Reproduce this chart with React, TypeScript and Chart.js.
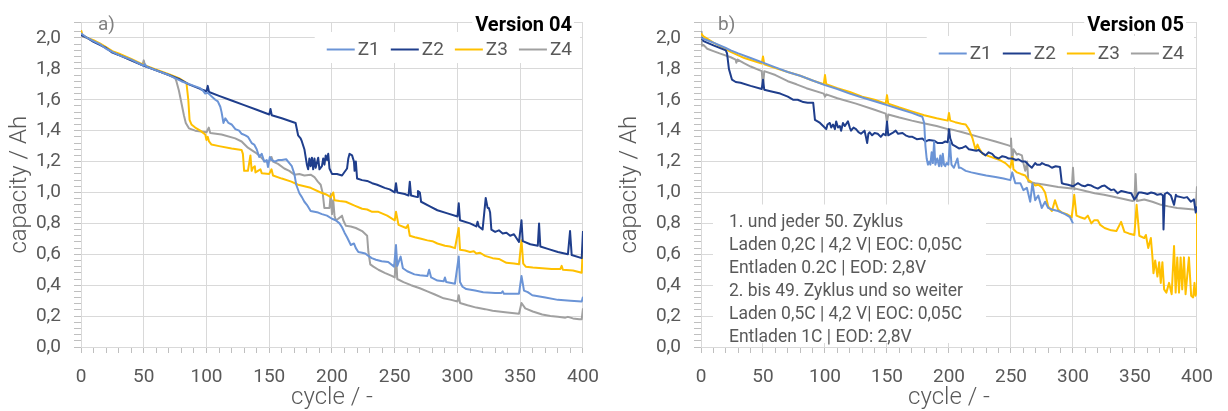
import React, { useEffect, useRef } from 'react';
import { Chart, registerables } from 'chart.js';

Chart.register(...registerables);

type P = [number, number];

// ---------- Version 04 (panel a) ----------
const V04_Z1: P[] = [
  [0, 2.03], [5, 2.0], [10, 1.98], [15, 1.96], [20, 1.93], [25, 1.91], [30, 1.89], [40, 1.86], [50, 1.82], [51, 1.83], [52, 1.815],
  [60, 1.79], [70, 1.76], [80, 1.72], [90, 1.69], [95, 1.675], [97, 1.66], [99, 1.64], [101, 1.645], [103, 1.63], [107, 1.6],
  [109, 1.59], [111, 1.555], [112, 1.52], [113.5, 1.45], [115, 1.48], [117.5, 1.45], [120, 1.44], [123, 1.41], [126, 1.4],
  [128, 1.38], [131, 1.37], [133, 1.36], [136, 1.32], [138, 1.31], [140, 1.28], [142, 1.23], [144, 1.25], [146, 1.2],
  [148, 1.21], [149, 1.165], [150.5, 1.23], [152, 1.21], [154.5, 1.2], [157, 1.21], [160, 1.21], [163.5, 1.215], [166, 1.19],
  [168, 1.17], [170, 1.12], [171.5, 1.05], [174, 0.995], [176, 0.97], [178, 0.94], [180, 0.92], [183, 0.88], [186, 0.875],
  [189, 0.87], [192, 0.86], [196, 0.85], [200, 0.83], [203, 0.82], [206, 0.8], [208, 0.775], [210, 0.74], [212, 0.71],
  [215, 0.66], [217.5, 0.67], [219, 0.64], [221, 0.615], [224, 0.61], [226.5, 0.605], [229, 0.59], [231.7, 0.575],
  [235, 0.565], [239.6, 0.555], [244.8, 0.55], [249.5, 0.52], [251, 0.66], [252, 0.525], [254.7, 0.585], [256.5, 0.51],
  [260, 0.49], [265.7, 0.47], [270, 0.465], [276, 0.46], [277.4, 0.5], [279, 0.45], [284, 0.43], [289, 0.425], [290, 0.45],
  [291, 0.42], [298, 0.41], [301, 0.585], [302, 0.42], [304, 0.39], [307, 0.375], [314, 0.365], [320.5, 0.355], [330, 0.35],
  [335, 0.35], [336, 0.36], [337, 0.345], [349, 0.345], [351, 0.46], [353, 0.365], [356, 0.355], [359.6, 0.335], [370, 0.32],
  [380, 0.305], [390, 0.3], [399, 0.295], [400, 0.325],
];
const V04_Z2: P[] = [
  [0, 2.02], [5, 2.0], [10, 1.975], [15, 1.955], [20, 1.935], [25, 1.905], [30, 1.89], [40, 1.855], [50, 1.82], [60, 1.79],
  [70, 1.76], [78, 1.735], [86, 1.7], [95, 1.67], [100, 1.655], [101, 1.69], [102, 1.65], [110, 1.625], [120, 1.595],
  [130, 1.565], [140, 1.535], [150, 1.505], [151, 1.54], [152, 1.5], [160, 1.48], [171, 1.45], [173, 1.37], [175, 1.35],
  [176, 1.33], [178, 1.28], [180, 1.18], [181, 1.15], [182, 1.22], [183, 1.17], [184, 1.225], [185, 1.15], [186, 1.22],
  [187, 1.16], [189, 1.225], [190, 1.15], [192, 1.17], [193, 1.22], [194, 1.18], [195, 1.24], [196, 1.21], [197, 1.25],
  [198, 1.155], [200, 1.12], [204, 1.12], [208, 1.11], [212, 1.155], [213, 1.22], [214, 1.25], [216, 1.24], [217.5, 1.2],
  [218, 1.14], [219, 1.2], [220, 1.09], [224, 1.08], [228, 1.075], [232, 1.06], [236, 1.05], [242, 1.03], [246, 1.02],
  [250, 1.0], [251, 1.06], [252, 1.0], [258, 0.99], [261, 0.98], [262, 1.07], [263, 0.98], [268, 0.97], [268.5, 1.01],
  [270, 1.0], [271, 0.94], [278, 0.91], [284, 0.885], [292, 0.865], [300, 0.845], [301, 0.93], [302, 0.82], [310, 0.8],
  [315, 0.78], [316, 0.81], [317, 0.78], [320, 0.76], [322.5, 0.965], [324, 0.9], [325, 0.9], [326, 0.87], [327, 0.76],
  [330, 0.745], [333, 0.755], [336, 0.735], [339, 0.74], [342, 0.72], [345, 0.73], [349, 0.68], [351, 0.82], [352, 0.685],
  [358, 0.665], [364, 0.655], [365, 0.8], [366, 0.65], [372, 0.635], [380, 0.615], [388, 0.6], [389.7, 0.75], [391, 0.595],
  [399, 0.575], [400, 0.75],
];
const V04_Z3: P[] = [
  [0, 2.05], [1, 2.02], [5, 2.0], [10, 1.985], [15, 1.965], [20, 1.94], [25, 1.915], [30, 1.9], [40, 1.865], [50, 1.825],
  [60, 1.795], [70, 1.765], [78, 1.74], [84, 1.71], [85.5, 1.6], [86.5, 1.47], [88, 1.44], [91, 1.42], [95, 1.4], [99, 1.375],
  [100, 1.34], [101, 1.36], [102, 1.33], [104, 1.31], [110, 1.3], [120, 1.285], [128, 1.275], [129, 1.25], [130, 1.14],
  [133, 1.14], [135, 1.24], [136, 1.14], [137, 1.16], [138.5, 1.17], [139, 1.13], [143, 1.15], [144, 1.125], [150, 1.12],
  [151.8, 1.15], [153, 1.11], [160, 1.09], [167.6, 1.07], [173, 1.05], [178, 1.04], [183, 1.03], [191, 1.0], [196, 0.985],
  [199, 0.97], [201, 1.0], [202, 0.95], [206, 0.945], [211, 0.94], [218, 0.915], [224, 0.895], [228, 0.89], [232, 0.875],
  [237, 0.875], [244, 0.85], [250, 0.82], [251, 0.875], [253, 0.79], [259, 0.77], [260.5, 0.79], [262, 0.72], [266, 0.71],
  [271, 0.7], [276, 0.69], [280, 0.685], [284, 0.67], [290, 0.655], [294, 0.65], [298, 0.64], [301, 0.77], [302, 0.63],
  [306, 0.625], [310, 0.615], [313, 0.62], [315, 0.605], [318, 0.61], [322, 0.59], [328, 0.575], [333, 0.57], [339, 0.545],
  [345, 0.54], [349, 0.535], [351, 0.69], [352.4, 0.54], [354.4, 0.52], [360, 0.515], [367.5, 0.51], [375, 0.505],
  [382, 0.505], [383, 0.525], [384, 0.5], [392, 0.495], [399, 0.48], [400, 0.67],
];
const V04_Z4: P[] = [
  [0, 2.05], [1, 2.01], [5, 2.0], [10, 1.98], [15, 1.96], [20, 1.935], [25, 1.91], [30, 1.89], [40, 1.855], [49, 1.825],
  [50, 1.855], [51, 1.82], [60, 1.79], [70, 1.76], [75, 1.74], [76, 1.72], [78, 1.66], [79.5, 1.6], [82, 1.5], [83.5, 1.45],
  [86, 1.415], [91, 1.4], [100, 1.39], [101.8, 1.42], [103, 1.385], [112, 1.375], [122.9, 1.35], [128, 1.33], [133, 1.29],
  [138.7, 1.26], [142, 1.24], [146.6, 1.2], [150, 1.2], [151.8, 1.23], [153, 1.2], [157, 1.185], [162, 1.155], [166, 1.14],
  [170, 1.115], [174, 1.12], [178, 1.11], [183, 1.115], [186, 1.1], [188.7, 1.07], [191, 1.05], [192.6, 0.995], [193.9, 0.9],
  [196, 0.9], [198, 0.9], [199, 0.99], [200, 0.86], [201, 0.95], [202, 0.85], [203, 0.82], [205, 0.83], [208, 0.85],
  [209, 0.82], [211, 0.785], [215, 0.78], [219, 0.77], [224, 0.75], [228, 0.72], [229, 0.615], [230.5, 0.535], [233, 0.52],
  [237, 0.5], [242, 0.48], [247.6, 0.46], [250, 0.45], [251, 0.615], [252, 0.44], [257, 0.42], [263, 0.4], [270, 0.38],
  [276, 0.36], [282, 0.34], [289, 0.315], [295, 0.305], [300, 0.295], [301, 0.335], [302, 0.285], [308, 0.27], [315, 0.255],
  [322, 0.245], [328, 0.235], [338, 0.225], [349, 0.215], [351, 0.285], [354, 0.25], [360, 0.23], [367.5, 0.21], [374, 0.2],
  [380, 0.195], [386, 0.19], [388, 0.195], [392, 0.185], [397, 0.18], [399, 0.18], [400, 0.25],
];

// ---------- Version 05 (panel b) ----------
const V05_Z1: P[] = [
  [0, 2.0], [5, 1.985], [10, 1.97], [20, 1.935], [24, 1.92], [30, 1.9], [40, 1.87], [50, 1.84], [60, 1.81], [70, 1.78],
  [80, 1.755], [90, 1.725], [100, 1.695], [110, 1.67], [120, 1.64], [130, 1.615], [140, 1.59], [150, 1.565], [160, 1.54],
  [170, 1.515], [178.5, 1.49], [180, 1.45], [181, 1.3], [182, 1.22], [183, 1.18], [184, 1.2], [185, 1.18], [186, 1.26],
  [187, 1.19], [188, 1.33], [189, 1.18], [190.5, 1.22], [192, 1.17], [193, 1.24], [194, 1.17], [195, 1.25], [196, 1.18],
  [197, 1.17], [198, 1.19], [199.5, 1.18], [200.7, 1.33], [202, 1.18], [204, 1.16], [206.8, 1.22], [208, 1.16],
  [209.5, 1.16], [213.5, 1.14], [218, 1.13], [224, 1.12], [230, 1.11], [237.5, 1.1], [244, 1.09], [249.5, 1.08], [251, 1.13],
  [253.5, 1.06], [257.5, 1.06], [260, 1.015], [262.8, 1.03], [265.5, 0.94], [267.3, 1.06], [269.5, 0.95], [272, 0.98],
  [274.8, 0.9], [277.5, 0.94], [280, 0.9], [283, 0.89], [288, 0.88], [293.6, 0.86], [297.6, 0.84], [300, 0.8],
];
const V05_Z2: P[] = [
  [0, 1.99], [1, 2.0], [2, 1.98], [10.5, 1.95], [20, 1.92], [21, 1.9], [22.5, 1.8], [25, 1.73], [28, 1.715], [31.9, 1.71],
  [40, 1.69], [49, 1.67], [50, 1.73], [51, 1.665], [56, 1.655], [63.9, 1.64], [70, 1.62], [74.5, 1.6], [78, 1.6], [82.5, 1.585],
  [86, 1.58], [90.5, 1.58], [91.9, 1.47], [94, 1.46], [96, 1.45], [98.5, 1.43], [101, 1.41], [102, 1.44], [103.9, 1.45],
  [105, 1.42], [106.5, 1.44], [108, 1.41], [109, 1.46], [110.5, 1.42], [112, 1.43], [113, 1.4], [114.5, 1.45], [116, 1.43],
  [118.5, 1.46], [120, 1.42], [121, 1.4], [123, 1.42], [125, 1.41], [127, 1.39], [129, 1.38], [131.9, 1.4], [133, 1.36],
  [134, 1.32], [135, 1.38], [135.9, 1.39], [138, 1.37], [140, 1.385], [142.5, 1.38], [145, 1.36], [147, 1.38], [149, 1.37],
  [150, 1.46], [151, 1.37], [154.5, 1.385], [157, 1.4], [159, 1.38], [162.5, 1.385], [165, 1.37], [168, 1.36], [170.5, 1.36],
  [174, 1.345], [178.5, 1.35], [181, 1.33], [184, 1.34], [188, 1.335], [191, 1.32], [194.5, 1.32], [197, 1.33], [199, 1.325],
  [200, 1.41], [201, 1.35], [202.8, 1.31], [205, 1.3], [208, 1.285], [211, 1.29], [213.5, 1.3], [216, 1.28], [219, 1.275],
  [222, 1.27], [224, 1.275], [226, 1.26], [229.5, 1.24], [232, 1.26], [234.8, 1.25], [237, 1.23], [240, 1.22], [243, 1.235],
  [245.5, 1.23], [248, 1.22], [251, 1.22], [254, 1.21], [256, 1.215], [259, 1.2], [261.5, 1.2], [264, 1.18], [266.8, 1.16],
  [269.5, 1.19], [271, 1.18], [273.5, 1.18], [275, 1.19], [277.5, 1.18], [280, 1.175], [283, 1.16], [286, 1.17],
  [289.5, 1.165], [291, 1.06], [293, 1.055], [296, 1.05], [300, 1.04], [302, 1.05], [304, 1.06], [307, 1.045],
  [309.5, 1.04], [312, 1.05], [314.8, 1.045], [317, 1.035], [320, 1.025], [323, 1.04], [325.5, 1.045], [328, 1.03],
  [330.8, 1.015], [333, 1.02], [336, 0.995], [339, 1.01], [341.5, 1.005], [344, 1.0], [347, 0.995], [349.5, 0.955],
  [351, 0.97], [353, 1.0], [355, 1.0], [358, 0.995], [360, 0.99], [363, 1.0], [365.6, 0.995], [368, 0.985], [371, 0.99],
  [372.5, 0.98], [373, 0.76], [374, 0.99], [376, 1.0], [379, 0.98], [381.5, 0.92], [383, 0.985], [384, 0.975], [387, 0.97],
  [389.5, 0.965], [392, 0.97], [395, 0.94], [397.5, 0.955], [399, 0.87], [400, 0.91],
];
const V05_Z3: P[] = [
  [0, 2.03], [2, 2.01], [10, 1.97], [24, 1.91], [35, 1.87], [49, 1.835], [50, 1.88], [51, 1.83], [60, 1.805], [70, 1.78],
  [80, 1.755], [90, 1.725], [99, 1.7], [100, 1.76], [101, 1.7], [110, 1.675], [120, 1.65], [130, 1.62], [140, 1.6],
  [149, 1.575], [150, 1.63], [151, 1.575], [160, 1.55], [170, 1.525], [180, 1.5], [190, 1.48], [199, 1.465], [200, 1.515],
  [201, 1.465], [205, 1.455], [210, 1.445], [213.5, 1.44], [216, 1.41], [219, 1.35], [221.5, 1.275], [223, 1.31],
  [224, 1.29], [227, 1.25], [232, 1.235], [237.5, 1.22], [241, 1.21], [245.5, 1.19], [249.5, 1.16], [251, 1.23], [252, 1.15],
  [254.8, 1.13], [258, 1.12], [261.5, 1.11], [264, 1.08], [266, 1.07], [269.5, 1.045], [272, 1.05], [274.8, 1.035],
  [277.5, 1.0], [280, 0.91], [283, 0.88], [285.5, 0.95], [288, 0.89], [291, 0.87], [295, 0.86], [299, 0.84], [301, 0.985],
  [302.8, 0.85], [306, 0.84], [309.5, 0.83], [312, 0.85], [314.8, 0.8], [317, 0.82], [320, 0.82], [322, 0.79], [325.5, 0.77],
  [330.8, 0.755], [335, 0.75], [338.8, 0.81], [341.5, 0.745], [345, 0.735], [349.5, 0.725], [351.3, 0.92], [353.5, 0.72],
  [357.5, 0.705], [358.8, 0.725], [360.7, 0.64], [362.8, 0.705], [364.1, 0.58], [364.9, 0.477], [366.3, 0.56],
  [368.1, 0.456], [369.5, 0.549], [370.8, 0.415], [372.1, 0.549], [373.5, 0.373], [375.3, 0.352], [377.5, 0.415],
  [379.6, 0.342], [381.5, 0.653], [382.8, 0.352], [384.1, 0.58], [385.5, 0.352], [386.8, 0.58], [388.1, 0.373],
  [389.5, 0.58], [390.8, 0.342], [393.5, 0.58], [395.3, 0.332], [396.9, 0.321], [398, 0.415], [398.8, 0.332],
  [399.5, 0.35], [400, 0.87],
];
const V05_Z4: P[] = [
  [0, 2.04], [0.5, 1.95], [2, 1.955], [5, 1.93], [10, 1.915], [15, 1.9], [24, 1.875], [27.9, 1.86], [28.5, 1.84],
  [29.5, 1.86], [35, 1.835], [40, 1.815], [49, 1.785], [50, 1.68], [51, 1.785], [60, 1.76], [70, 1.72], [77, 1.7],
  [85, 1.675], [99, 1.64], [100, 1.62], [101, 1.635], [110, 1.61], [125, 1.575], [140, 1.535], [149, 1.51], [150, 1.45],
  [151, 1.505], [160, 1.485], [170, 1.465], [178.5, 1.45], [190, 1.43], [199, 1.41], [200, 1.39], [201, 1.41],
  [210.8, 1.39], [224, 1.36], [237.5, 1.33], [248, 1.305], [249.5, 1.3], [250, 1.35], [251, 1.2], [252, 1.28],
  [254.8, 1.245], [256, 1.25], [258.8, 1.24], [260, 1.19], [261.5, 1.14], [263, 1.2], [264, 1.07], [269.5, 1.06],
  [277.5, 1.05], [288, 1.035], [299, 1.025], [300, 1.16], [301, 1.02], [302, 1.025], [310, 1.01], [317.5, 0.995],
  [325, 0.985], [330.8, 0.975], [340, 0.96], [348, 0.945], [349.5, 0.95], [350.5, 1.12], [351.5, 0.945], [357.5, 0.955],
  [364, 0.94], [371, 0.92], [377, 0.91], [384, 0.9], [391, 0.895], [397.5, 0.89], [399, 0.89], [400, 1.04],
];

const SERIES_LABELS = ['Z1', 'Z2', 'Z3', 'Z4'];
const SERIES_COLORS = ['#6b94d6', '#1f3e8c', '#ffc000', '#a0a0a0'];
const NOTE_LINES = [
  '1. und jeder 50. Zyklus',
  'Laden 0,2C | 4,2 V| EOC: 0,05C',
  'Entladen 0.2C | EOD: 2,8V',
  '2. bis 49. Zyklus und so weiter',
  'Laden 0,5C | 4,2 V| EOC: 0,05C',
  'Entladen 1C | EOD: 2,8V',
];
const X_TITLE = 'cycle / -';
const Y_TITLE = 'capacity / Ah';

const FONT = 'Roboto';
const TEXT = '#595959';
const GRID = '#d9d9d9';
const TICKMARK = '#bfbfbf';

const isMajorY = (v: number) => Math.abs(v * 5 - Math.round(v * 5)) < 1e-6 || v >= 2.1 - 1e-9;

const overlayPlugin = {
  id: 'overlay',
  beforeDatasetsDraw(chart: any, _args: any, o: any) {
    const { ctx, chartArea: ca } = chart;
    ctx.save();
    ctx.textBaseline = 'middle';
    // panel letter
    ctx.font = `19px ${FONT}`;
    ctx.fillStyle = '#808080';
    ctx.textAlign = 'left';
    ctx.fillText(o.panel, ca.left + 17, 25);
    // version title
    const vRight = ca.right - o.inset;
    ctx.font = `bold 20px ${FONT}`;
    const vw = ctx.measureText(o.version).width;
    ctx.fillStyle = '#ffffff';
    ctx.fillRect(vRight - vw - 3, 17, vw + 5, 17);
    ctx.fillStyle = '#000000';
    ctx.textAlign = 'right';
    ctx.fillText(o.version, vRight, 26);
    // legend
    ctx.font = `19px ${FONT}`;
    const lineW = 28, gap = 3, itemGap = 11;
    const ds = chart.data.datasets;
    const widths = ds.map((d: any) => ctx.measureText(d.label).width);
    const total = widths.reduce((a: number, b: number) => a + b, 0) + ds.length * (lineW + gap) + (ds.length - 1) * itemGap;
    let x = vRight - total;
    const ly = o.legendY;
    ctx.fillStyle = '#ffffff';
    ctx.fillRect(x - 12, ly - 18, ca.right - 3 - (x - 12), 31);
    ctx.textAlign = 'left';
    ds.forEach((d: any, i: number) => {
      ctx.strokeStyle = d.borderColor;
      ctx.lineWidth = 2;
      ctx.beginPath();
      ctx.moveTo(x, ly - 0.5);
      ctx.lineTo(x + lineW, ly - 0.5);
      ctx.stroke();
      x += lineW + gap;
      ctx.fillStyle = TEXT;
      ctx.fillText(d.label, x, ly);
      x += widths[i] + itemGap;
    });
    // annotation box
    if (o.note) {
      ctx.fillStyle = '#ffffff';
      ctx.fillRect(ca.left + 12, ca.top + 182, 273, ca.bottom - 4 - (ca.top + 182));
      ctx.font = `17.5px ${FONT}`;
      ctx.fillStyle = TEXT;
      ctx.textAlign = 'left';
      NOTE_LINES.forEach((t, i) => ctx.fillText(t, ca.left + 28, ca.top + 200 + i * 23.1));
    }
    ctx.restore();
  },
};

type PanelCfg = {
  left: number;
  width: number;
  axisLeft: number;
  padRight: number;
  titlePad: number;
  panel: string;
  version: string;
  inset: number;
  legendY: number;
  note: boolean;
  series: P[][];
};

function Panel({ cfg }: { cfg: PanelCfg }) {
  const ref = useRef<HTMLCanvasElement>(null);
  useEffect(() => {
    const tickFont = { family: FONT, size: 19, lineHeight: 1 };
    const titleFont = { family: FONT, size: 24, weight: '300' as any, lineHeight: 1 };
    const chart = new Chart(ref.current as HTMLCanvasElement, {
      type: 'line',
      data: {
        datasets: cfg.series.map((s, i) => ({
          label: SERIES_LABELS[i],
          data: s.map(([x, y]) => ({ x, y })),
          borderColor: SERIES_COLORS[i],
          backgroundColor: SERIES_COLORS[i],
          borderWidth: 2,
          pointRadius: 0,
          tension: 0,
          fill: false,
          borderJoinStyle: 'round' as const,
        })),
      },
      options: {
        responsive: false,
        animation: false,
        events: [],
        layout: { padding: { top: 11, right: cfg.padRight, bottom: 0, left: 0 } },
        plugins: {
          legend: { display: false },
          tooltip: { enabled: false },
          overlay: {
            panel: cfg.panel,
            version: cfg.version,
            inset: cfg.inset,
            legendY: cfg.legendY,
            note: cfg.note,
          },
        } as any,
        scales: {
          x: {
            type: 'linear',
            min: 0,
            max: 400,
            ticks: {
              stepSize: 10,
              autoSkip: false,
              maxRotation: 0,
              minRotation: 0,
              color: TEXT,
              font: tickFont,
              padding: 15,
              callback: (v: any) => (Math.round(v) % 50 === 0 ? String(Math.round(v)) : ''),
            },
            grid: {
              color: (c: any) => (c.tick && Math.round(c.tick.value) % 50 === 0 ? GRID : 'rgba(0,0,0,0)'),
              tickColor: TICKMARK,
              tickLength: 6,
              lineWidth: 1,
            },
            border: { color: GRID },
            title: {
              display: true,
              text: X_TITLE,
              color: TEXT,
              font: titleFont,
              padding: { top: 0, bottom: 1 },
            },
            afterFit: (s: any) => {
              s.height = 64;
            },
          },
          y: {
            type: 'linear',
            min: 0,
            max: 2.1,
            ticks: {
              stepSize: 0.04,
              autoSkip: false,
              maxTicksLimit: 200,
              color: TEXT,
              font: tickFont,
              padding: 13,
              callback: (v: any) => (isMajorY(v) && v <= 2.0 + 1e-9 ? Number(v).toFixed(1).replace('.', ',') : ''),
            },
            grid: {
              color: (c: any) => (c.tick && isMajorY(c.tick.value) ? GRID : 'rgba(0,0,0,0)'),
              tickColor: TICKMARK,
              tickLength: 7,
              lineWidth: 1,
            },
            border: { color: GRID },
            title: {
              display: true,
              text: Y_TITLE,
              color: TEXT,
              font: titleFont,
              padding: { top: cfg.titlePad, bottom: 0 },
            },
            afterFit: (s: any) => {
              s.width = cfg.axisLeft;
            },
          },
        },
      } as any,
      plugins: [overlayPlugin as any],
    });
    return () => chart.destroy();
  }, [cfg]);
  return (
    <canvas
      ref={ref}
      width={cfg.width}
      height={411}
      style={{ position: 'absolute', left: cfg.left, top: 0, width: cfg.width, height: 411 }}
    />
  );
}

const PANEL_A: PanelCfg = {
  left: 0,
  width: 614,
  axisLeft: 81,
  padRight: 21,
  titlePad: 8,
  panel: 'a)',
  version: 'Version 04',
  inset: 11,
  legendY: 50,
  note: false,
  series: [V04_Z1, V04_Z2, V04_Z3, V04_Z4],
};
const PANEL_B: PanelCfg = {
  left: 614,
  width: 614,
  axisLeft: 87,
  padRight: 28,
  titlePad: 4,
  panel: 'b)',
  version: 'Version 05',
  inset: 13,
  legendY: 54,
  note: true,
  series: [V05_Z1, V05_Z2, V05_Z3, V05_Z4],
};

export default function App() {
  return (
    <div style={{ position: 'absolute', left: 0, top: 0, width: 1228, height: 411, background: '#ffffff' }}>
      <Panel cfg={PANEL_A} />
      <Panel cfg={PANEL_B} />
    </div>
  );
}
